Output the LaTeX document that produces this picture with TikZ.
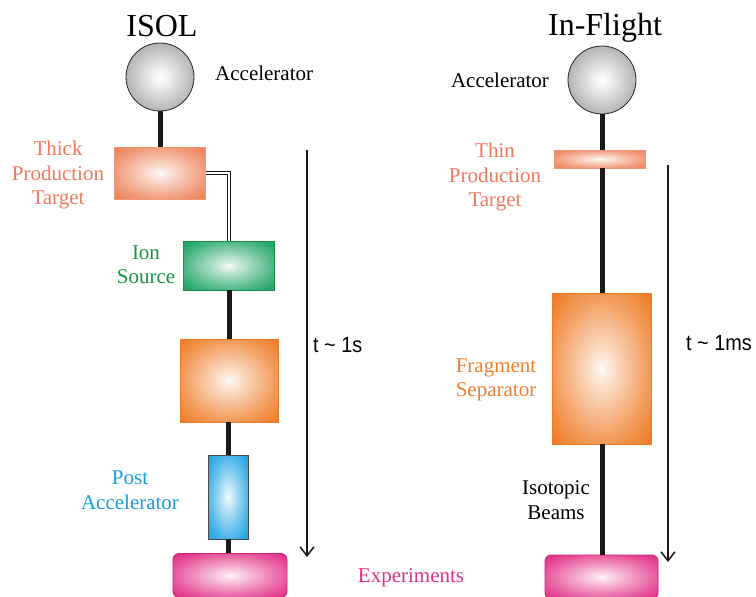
\documentclass[tikz,border=0pt]{standalone}
\usepackage{fontspec}
\setmainfont{Liberation Serif}
\newfontfamily\tsans[FakeStretch=0.9]{Liberation Sans}
\usetikzlibrary{arrows.meta}
\definecolor{csalmon}{RGB}{236,126,84}
\definecolor{tsalmon}{RGB}{240,120,96}
\definecolor{cgreen}{RGB}{22,160,92}
\definecolor{tgreen}{RGB}{20,150,70}
\definecolor{corange}{RGB}{238,122,36}
\definecolor{torange}{RGB}{240,128,48}
\definecolor{cblue}{RGB}{22,160,225}
\definecolor{tblue}{RGB}{20,160,225}
\definecolor{cpink}{RGB}{225,40,130}
\definecolor{tpink}{RGB}{228,48,140}
\definecolor{cgray}{RGB}{180,180,180}
\definecolor{beamc}{RGB}{30,25,25}
\newcommand{\glowstops}[1]{color(0bp)=(white); color(2bp)=(white!88!#1); color(12bp)=(white!58!#1); color(25bp)=(white!22!#1); color(35bp)=(#1); color(50bp)=(#1)}
\pgfdeclareradialshading{gsalmon}{\pgfpoint{0bp}{0bp}}{color(0bp)=(white); color(2bp)=(white!88!csalmon); color(12bp)=(white!58!csalmon); color(25bp)=(white!22!csalmon); color(35bp)=(csalmon); color(50bp)=(csalmon)}
\pgfdeclareradialshading{ggreen}{\pgfpoint{0bp}{0bp}}{color(0bp)=(white); color(2bp)=(white!88!cgreen); color(12bp)=(white!58!cgreen); color(25bp)=(white!22!cgreen); color(35bp)=(cgreen); color(50bp)=(cgreen)}
\pgfdeclareradialshading{gorange}{\pgfpoint{0bp}{0bp}}{color(0bp)=(white); color(2bp)=(white!88!corange); color(12bp)=(white!58!corange); color(25bp)=(white!22!corange); color(35bp)=(corange); color(50bp)=(corange)}
\pgfdeclareradialshading{gblue}{\pgfpoint{0bp}{0bp}}{color(0bp)=(white); color(2bp)=(white!88!cblue); color(12bp)=(white!58!cblue); color(25bp)=(white!22!cblue); color(35bp)=(cblue); color(50bp)=(cblue)}
\pgfdeclareradialshading{gpink}{\pgfpoint{0bp}{0bp}}{color(0bp)=(white); color(2bp)=(white!88!cpink); color(12bp)=(white!58!cpink); color(25bp)=(white!22!cpink); color(35bp)=(cpink); color(50bp)=(cpink)}
\pgfdeclareradialshading{ggray}{\pgfpoint{0bp}{0bp}}{color(0bp)=(white); color(3bp)=(white!92!cgray); color(25bp)=(cgray); color(50bp)=(cgray)}
\tikzset{
  box/.style={rectangle, inner sep=0pt, line width=0.8pt},
  salmonbox/.style={box, shading=gsalmon, draw=csalmon!80!white},
  greenbox/.style={box, shading=ggreen, draw=cgreen!90!black},
  orangebox/.style={box, shading=gorange, draw=corange},
  bluebox/.style={box, shading=gblue, draw=black!70},
  pinkbox/.style={box, shading=gpink, draw=cpink!90!black, rounded corners=6pt},
  accel/.style={circle, inner sep=0pt, minimum size=68pt, shading=ggray, draw=black!85, line width=0.8pt},
  beam/.style={draw=beamc, line width=5pt},
  lbl/.style={font=\fontsize{21}{24.5}\selectfont, align=center, inner sep=0pt},
  ttl/.style={font=\fontsize{32}{36}\selectfont, inner sep=0pt},
  timearrow/.style={draw=beamc, line width=1.5pt, -{Straight Barb[length=9pt,width=14pt,line width=1.5pt]}},
  tlbl/.style={font=\tsans\fontsize{22}{24}\selectfont, inner sep=0pt, anchor=west}
}
\begin{document}
\begin{tikzpicture}[x=1pt,y=-1pt]
\useasboundingbox (0,0) rectangle (756,597);
% ---------- ISOL ----------
\node[ttl] (isol) at (162,26) {ISOL};
\node[accel] (acc1) at (160,77) {};
\node[lbl, anchor=west] (acc1l) at (215,73) {Accelerator};
\node[salmonbox, minimum width=91pt, minimum height=52pt] (tgt1) at (160,173) {};
\node[lbl, text=tsalmon] (tgt1l) at (58,175) {Thick\\Production\\Target};
\node[greenbox, minimum width=91pt, minimum height=49pt] (ion) at (229,265.5) {};
\node[lbl, text=tgreen] (ionl) at (146,264.5) {Ion\\Source};
\node[orangebox, minimum width=98pt, minimum height=83pt] (sep1) at (229,380.5) {};
\node[bluebox, minimum width=40pt, minimum height=84pt] (post) at (228,497) {};
\node[lbl, text=tblue] (postl) at (130,490) {Post\\Accelerator};
\node[pinkbox, minimum width=114pt, minimum height=44pt] (exp1) at (230,575.5) {};
\node[lbl, text=tpink] (expl) at (411,578) {Experiments};
\draw[beam] (acc1) -- (tgt1);
\draw[draw=beamc, line width=1.1pt, double=white, double distance=2.4pt] (tgt1.east) -| (ion.north);
\draw[beam] (ion) -- (sep1);
\draw[beam] (sep1.south -| post.north) -- (post);
\draw[beam] (post.south) -- (post.south |- exp1.north);
\coordinate (a1s) at (307,150);
\coordinate (a1e) at (307,557);
\draw[timearrow] (a1s) -- (a1e);
\node[tlbl] (t1) at (313,345) {t \textasciitilde{} 1s};
% ---------- In-Flight ----------
\node[ttl] (infl) at (605,28) {In-Flight};
\node[accel] (acc2) at (602,80) {};
\node[lbl] (acc2l) at (500,80) {Accelerator};
\node[salmonbox, minimum width=91pt, minimum height=18pt] (tgt2) at (600,159) {};
\node[lbl, text=tsalmon] (tgt2l) at (495,177) {Thin\\Production\\Target};
\node[orangebox, minimum width=99pt, minimum height=151pt] (sep2) at (601.5,368.5) {};
\node[lbl, text=torange] (sep2l) at (496,380) {Fragment\\Separator};
\node[pinkbox, minimum width=113pt, minimum height=44pt] (exp2) at (601.5,577) {};
\node[lbl] (isol2) at (556,500) {Isotopic\\Beams};
\draw[beam] (acc2) -- (acc2 |- tgt2.north);
\draw[beam] (acc2 |- tgt2.south) -- (acc2 |- sep2.north);
\draw[beam] (acc2 |- sep2.south) -- (acc2 |- exp2.north);
\coordinate (a2s) at (668,165);
\coordinate (a2e) at (668,562);
\draw[timearrow] (a2s) -- (a2e);
\node[tlbl] (t2) at (686,343) {t \textasciitilde{} 1ms};
\end{tikzpicture}
\end{document}
